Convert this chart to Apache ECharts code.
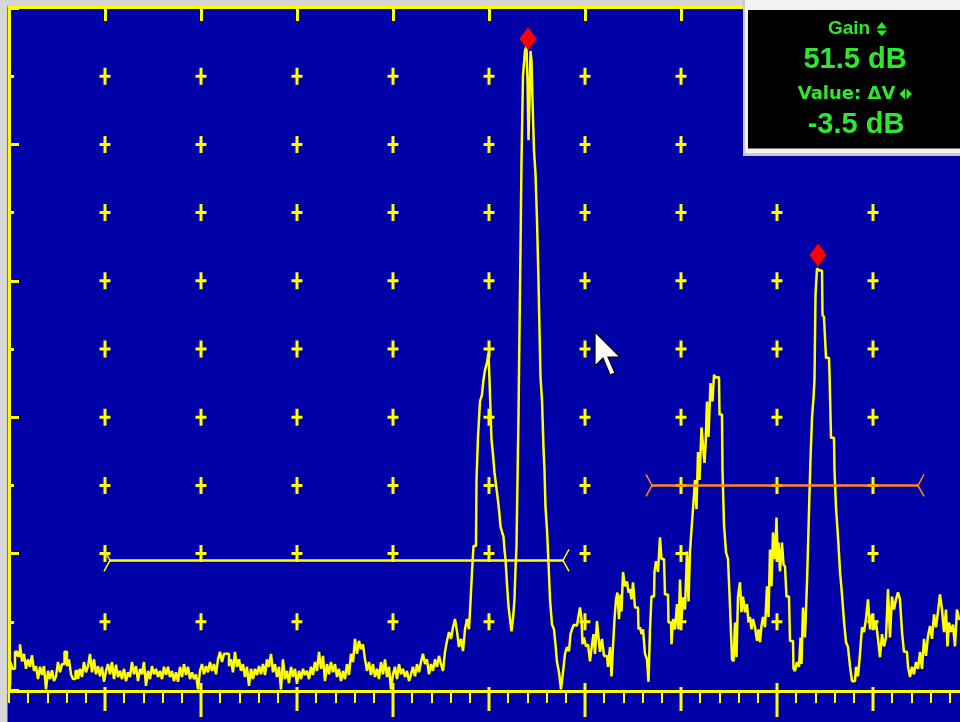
<!DOCTYPE html>
<html>
<head>
<meta charset="utf-8">
<title>A-Scan</title>
<script src="https://cdn.jsdelivr.net/npm/echarts@6.0.0/dist/echarts.min.js"></script>
<style>
  html, body { margin: 0; padding: 0; background: #d6d6d6; }
  #main { width: 960px; height: 722px; }
</style>
</head>
<body>
<div id="main"></div>
<script>
// echo trace: sample index along the time base, amplitude in % full screen height
const echoSample = [
  1, 2, 5, 7, 10, 12, 14, 16, 18, 20,
  22, 24, 26, 28, 30, 32, 34, 36, 38, 40,
  42, 44, 46, 48, 50, 52, 54, 57, 59, 61,
  63, 65, 68, 70, 72, 74, 76, 78, 80, 82,
  84, 86, 88, 90, 92, 94, 96, 98, 100, 102,
  104, 106, 108, 110, 112, 114, 116, 118, 120, 122,
  124, 126, 128, 130, 132, 134, 136, 138, 140, 142,
  144, 146, 148, 150, 152, 154, 156, 158, 160, 162,
  164, 166, 168, 170, 172, 174, 176, 178, 180, 182,
  184, 186, 188, 190, 192, 194, 196, 198, 200, 202,
  204, 206, 208, 210, 212, 214, 216, 219, 221, 223,
  225, 227, 229, 231, 233, 235, 237, 239, 241, 243,
  245, 247, 249, 251, 253, 255, 257, 259, 261, 263,
  265, 267, 269, 271, 273, 275, 277, 279, 281, 283,
  285, 287, 289, 291, 293, 295, 297, 299, 301, 303,
  305, 307, 309, 311, 313, 315, 317, 319, 321, 323,
  325, 327, 329, 331, 333, 335, 337, 339, 341, 343,
  345, 347, 349, 351, 353, 355, 357, 359, 361, 363,
  365, 367, 369, 371, 373, 375, 377, 379, 381, 383,
  385, 387, 389, 391, 393, 395, 397, 399, 401, 403,
  405, 407, 409, 411, 413, 415, 417, 419, 421, 423,
  425, 427, 429, 431, 433, 435, 437, 439, 441, 443,
  445, 447, 449, 451, 453, 455, 457, 459, 461, 462,
  464, 465, 467, 468, 470, 472, 474, 475, 477, 479,
  480, 481, 482, 483, 485, 486, 488, 489, 491, 492,
  494, 495, 496, 497, 499, 500, 502, 503, 505, 506,
  507, 508, 509, 510, 511, 512, 513, 515, 517, 518,
  519, 520, 521, 522, 523, 524, 526, 527, 529, 530,
  531, 532, 534, 535, 536, 537, 539, 540, 542, 544,
  546, 547, 549, 551, 553, 555, 557, 559, 561, 562,
  564, 566, 568, 570, 572, 573, 574, 576, 578, 580,
  582, 584, 585, 587, 589, 590, 592, 594, 596, 598,
  600, 602, 603, 605, 606, 608, 609, 611, 612, 613,
  615, 617, 619, 620, 622, 623, 625, 627, 629, 630,
  632, 633, 635, 637, 639, 640, 642, 643, 645, 646,
  648, 650, 652, 653, 655, 657, 659, 660, 662, 663,
  665, 667, 669, 670, 672, 673, 675, 677, 679, 680,
  682, 683, 685, 687, 688, 690, 691, 694, 695, 696,
  697, 699, 700, 703, 704, 706, 708, 710, 711, 713,
  714, 716, 718, 720, 722, 724, 725, 727, 728, 730,
  732, 733, 735, 737, 739, 740, 742, 743, 745, 747,
  749, 750, 752, 753, 755, 757, 759, 760, 762, 763,
  765, 767, 768, 769, 770, 772, 774, 775, 777, 778,
  780, 782, 784, 785, 787, 789, 791, 792, 793, 795,
  797, 799, 800, 801, 802, 804, 805, 806, 807, 809,
  810, 811, 813, 814, 816, 818, 820, 821, 823, 825,
  826, 828, 829, 830, 832, 834, 836, 838, 840, 842,
  844, 846, 848, 850, 852, 854, 856, 858, 860, 862,
  864, 866, 868, 870, 872, 874, 876, 878, 880, 882,
  884, 886, 888, 890, 892, 894, 896, 898, 900, 902,
  904, 906, 908, 910, 912, 914, 916, 918, 920, 922,
  924, 926, 928, 930, 932, 934, 936, 938, 939, 941,
  943, 945, 947, 949, 951
];
const echoAmp = [
  0.6, 4.1, 3.1, 5.6, 5.0, 6.7, 4.2, 5.3, 3.1, 4.5,
  3.4, 5.1, 2.8, 3.5, 1.6, 3.4, 2.2, 3.5, 0.1, 2.8,
  1.6, 2.9, 1.3, 2.0, 4.1, 2.6, 3.8, 5.6, 3.5, 4.5,
  2.3, 1.6, 2.8, 1.6, 3.1, 1.9, 4.1, 2.6, 3.5, 5.3,
  2.6, 4.5, 2.3, 3.5, 2.0, 3.4, 1.2, 2.8, 3.8, 2.3,
  4.1, 1.6, 3.7, 1.9, 2.8, 1.6, 3.1, 1.3, 2.6, 1.9,
  4.1, 2.3, 3.5, 1.3, 3.1, 2.3, 4.1, 0.6, 2.8, 1.6,
  3.5, 2.3, 3.1, 1.9, 2.8, 1.6, 3.4, 2.2, 3.4, 1.9,
  2.8, 1.3, 2.6, 1.2, 3.4, 1.9, 3.8, 2.2, 3.4, 1.6,
  2.6, 1.6, 2.3, 0.1, 2.8, 3.8, 2.3, 3.5, 2.6, 4.1,
  2.8, 3.8, 2.3, 4.5, 5.6, 4.1, 5.3, 5.3, 3.5, 4.5,
  2.6, 5.6, 3.4, 4.5, 2.8, 3.8, 1.9, 3.4, 0.6, 3.1,
  1.6, 3.1, 2.2, 3.5, 2.3, 3.8, 2.2, 4.5, 3.4, 5.3,
  2.6, 3.8, 1.9, 3.4, 0.1, 4.5, 1.6, 2.8, 1.0, 3.4,
  1.9, 3.1, 0.9, 2.8, 1.6, 3.1, 2.2, 2.8, 1.6, 3.4,
  2.2, 4.1, 2.8, 5.6, 3.1, 5.0, 1.3, 3.8, 2.3, 4.1,
  2.6, 3.8, 1.9, 3.1, 1.3, 2.8, 1.6, 3.8, 2.2, 5.3,
  4.1, 7.5, 5.3, 7.2, 6.0, 6.7, 4.5, 2.8, 4.1, 2.2,
  3.8, 1.9, 3.1, 1.6, 4.1, 2.3, 4.5, 1.9, 3.4, 0.1,
  2.3, 3.4, 1.6, 3.8, 2.3, 3.1, 1.9, 2.8, 1.3, 2.3,
  3.4, 2.0, 3.8, 2.6, 4.1, 5.3, 3.8, 4.5, 2.3, 3.8,
  2.8, 4.5, 3.4, 5.0, 3.8, 2.8, 5.6, 7.2, 8.5, 7.5,
  9.2, 10.4, 8.6, 6.3, 7.5, 5.7, 8.9, 10.4, 8.9, 12.9,
  17.3, 21.1, 21.1, 30.8, 37.1, 42.3, 43.3, 45.5, 46.9, 48.0,
  49.4, 45.5, 41.1, 36.7, 34.5, 31.9, 30.1, 28.4, 26.5, 24.0,
  23.2, 22.5, 20.6, 19.2, 15.5, 12.3, 10.4, 8.6, 10.4, 13.3,
  17.7, 21.1, 30.8, 40.1, 52.8, 64.5, 77.6, 90.1, 93.7, 94.4,
  89.3, 80.6, 86.4, 93.7, 92.3, 86.4, 79.1, 75.7, 68.9, 60.1,
  52.8, 45.9, 42.5, 35.5, 32.3, 26.8, 23.5, 18.7, 13.3, 9.6,
  8.9, 6.7, 4.1, 2.6, 0.1, 2.6, 5.3, 6.3, 5.7, 8.2,
  8.9, 9.6, 9.4, 10.4, 12.1, 10.4, 6.7, 7.7, 6.4, 6.7,
  4.2, 6.7, 8.2, 5.3, 10.1, 7.7, 5.6, 7.5, 5.0, 5.0,
  3.4, 6.3, 2.0, 6.3, 10.4, 13.3, 14.3, 10.4, 14.0, 11.5,
  17.3, 15.2, 15.9, 14.3, 14.8, 13.3, 15.8, 12.1, 12.1, 8.9,
  9.2, 8.2, 8.9, 5.3, 4.5, 1.2, 8.9, 13.7, 13.7, 17.3,
  18.9, 17.3, 22.4, 19.2, 19.2, 14.0, 14.0, 9.9, 9.9, 6.7,
  10.4, 8.9, 12.6, 8.9, 16.2, 10.4, 13.6, 11.8, 20.3, 13.0,
  20.3, 23.5, 26.5, 30.8, 26.5, 34.9, 30.8, 38.5, 34.9, 33.3,
  35.7, 42.3, 37.1, 45.0, 42.3, 46.2, 45.8, 45.9, 40.4, 40.4,
  32.3, 24.3, 20.2, 19.2, 12.3, 4.5, 4.2, 9.9, 4.8, 13.7,
  15.8, 11.4, 13.7, 11.4, 12.6, 9.9, 10.7, 8.9, 10.4, 9.2,
  7.2, 8.9, 7.0, 9.4, 10.7, 9.2, 15.2, 10.7, 20.6, 15.2,
  23.1, 19.2, 25.3, 19.9, 21.6, 17.4, 21.6, 18.4, 18.1, 13.7,
  13.7, 7.2, 7.2, 3.1, 2.8, 4.1, 3.4, 7.7, 3.8, 12.1,
  7.7, 15.8, 23.5, 28.9, 33.8, 39.9, 42.8, 45.5, 57.9, 61.8,
  61.8, 61.5, 61.5, 55.0, 54.7, 48.7, 48.7, 46.5, 37.0, 37.0,
  32.3, 26.8, 23.5, 21.3, 17.4, 14.0, 10.1, 7.0, 6.3, 3.5,
  1.3, 1.3, 3.4, 2.0, 5.3, 9.2, 8.5, 10.4, 13.3, 8.9,
  11.1, 8.9, 9.9, 7.5, 4.8, 8.2, 6.4, 7.7, 14.8, 7.7,
  13.7, 11.8, 13.3, 14.3, 13.3, 8.5, 5.6, 5.6, 3.4, 1.9,
  3.4, 2.3, 4.1, 3.1, 5.6, 3.1, 7.5, 5.0, 7.9, 9.4,
  7.5, 11.1, 9.2, 11.5, 14.0, 11.8, 8.5, 11.8, 6.4, 9.9,
  8.5, 9.6, 6.4, 11.8, 10.4
];

// screen divisions (10 x 10), 96 samples per horizontal division
const divCols = [96, 192, 288, 384, 480, 576, 672, 768, 864];
const divRows = [10, 20, 30, 40, 50, 60, 70, 80, 90];
const oddCols = [96, 288, 480, 672, 864];
const evenCols = [192, 384, 576, 768];

// gates: [start, end, threshold %]
const gateA = [101, 554, 19];
const gateB = [643, 909, 30];

// peak markers
const peakSample = [519, 809];
const peakAmp = [95.5, 63.8];

// readout box
const gainLabel = 'Gain';
const gainValue = '51.5 dB';
const deltaLabel = 'Value: \u0394V';
const deltaValue = '-3.5 dB';

const BLUE = '#0000a8';
const YEL = '#ffff00';
const ORANGE = '#ff8a1a';
const GREEN = '#2ee82e';
const GRAY = '#d6d6d6';

const chart = echarts.init(document.getElementById('main'));

const crosses = [];
divCols.forEach(c => divRows.forEach(r => crosses.push([c, r])));

// gate line with bracket ends
function gateRender(color) {
  return function (params, api) {
    const a = api.coord([api.value(0), api.value(2)]);
    const b = api.coord([api.value(1), api.value(2)]);
    const thin = { stroke: color, lineWidth: 1.5, fill: null };
    return {
      type: 'group',
      children: [
        { type: 'line', shape: { x1: a[0], y1: a[1], x2: b[0], y2: b[1] },
          style: { stroke: color, lineWidth: 2.5 } },
        { type: 'polyline', shape: { points: [[a[0] - 6, a[1] - 11], [a[0], a[1]], [a[0] - 6, a[1] + 11]] },
          style: thin },
        { type: 'polyline', shape: { points: [[b[0] + 6, b[1] - 11], [b[0], b[1]], [b[0] + 6, b[1] + 11]] },
          style: thin }
      ]
    };
  };
}

function txt(x, y, text, font) {
  return {
    type: 'text', x: x, y: y, z: 110,
    style: { text: text, fill: GREEN, font: font,
      textAlign: 'center', textVerticalAlign: 'middle', align: 'center', verticalAlign: 'middle' }
  };
}

const option = {
  animation: false,
  backgroundColor: BLUE,
  grid: { left: 9, top: 8, width: 960, height: 682, outerBoundsMode: 'none', containLabel: false },
  xAxis: [
    {
      type: 'value', position: 'bottom', min: 0, max: 960, interval: 19.2, offset: 1,
      axisLine: { onZero: false, lineStyle: { color: YEL, width: 3 } },
      axisTick: { show: true, inside: false, length: 12, lineStyle: { color: YEL, width: 2 } },
      axisLabel: { show: false }, splitLine: { show: false }
    },
    {
      type: 'value', position: 'top', min: 0, max: 960, interval: 96, offset: 1,
      axisLine: { show: true, onZero: false, lineStyle: { color: YEL, width: 3 } },
      axisTick: { show: true, inside: true, length: 14, lineStyle: { color: YEL, width: 3 } },
      axisLabel: { show: false }, splitLine: { show: false }
    }
  ],
  yAxis: [
    {
      type: 'value', position: 'left', min: 0, max: 100, interval: 10,
      axisLine: { show: true, onZero: false, lineStyle: { color: YEL, width: 3 } },
      axisTick: { show: true, inside: true, length: 5, lineStyle: { color: YEL, width: 3 } },
      axisLabel: { show: false }, splitLine: { show: false }
    },
    {
      type: 'value', position: 'left', offset: 0, min: 0, max: 100, interval: 20,
      axisLine: { show: false, onZero: false },
      axisTick: { show: true, inside: true, length: 10, lineStyle: { color: YEL, width: 3 } },
      axisLabel: { show: false }, splitLine: { show: false }
    }
  ],
  series: [
    {
      type: 'scatter', name: 'grid', z: 1, silent: true, clip: false,
      symbol: 'path://M4,0H7V7H11V10H7V17H4V10H0V7H4Z', symbolSize: [11, 17],
      itemStyle: { color: YEL, opacity: 1 },
      data: crosses
    },
    {
      type: 'scatter', name: 'div ticks', z: 1, silent: true, clip: false,
      symbol: 'rect', symbolSize: [3, 24], symbolOffset: [0, 9],
      itemStyle: { color: YEL, opacity: 1 },
      data: oddCols.map(c => [c, 0])
    },
    {
      type: 'scatter', name: 'major ticks', z: 1, silent: true, clip: false,
      symbol: 'rect', symbolSize: [3, 34], symbolOffset: [0, 10],
      itemStyle: { color: YEL, opacity: 1 },
      data: evenCols.map(c => [c, 0])
    },
    {
      type: 'line', name: 'A-scan', z: 3, step: 'middle', showSymbol: false, sampling: null,
      lineStyle: { color: YEL, width: 2.5 },
      data: echoSample.map((s, i) => [s, echoAmp[i]])
    },
    {
      type: 'custom', name: 'Gate A', z: 4, renderItem: gateRender(YEL), data: [gateA]
    },
    {
      type: 'custom', name: 'Gate B', z: 4, renderItem: gateRender(ORANGE), data: [gateB]
    },
    {
      type: 'scatter', name: 'peaks', z: 5, symbol: 'diamond', symbolSize: [17, 23],
      itemStyle: { color: '#ff0000', opacity: 1 },
      data: peakSample.map((s, i) => [s, peakAmp[i]])
    }
  ],
  graphic: [
    { type: 'rect', z: 0, shape: { x: 0, y: 0, width: 7.5, height: 722 }, style: { fill: GRAY } },
    { type: 'rect', z: 0, shape: { x: 0, y: 0, width: 960, height: 6 }, style: { fill: GRAY } },
    // readout box
    { type: 'rect', z: 100, shape: { x: 743, y: 0, width: 230, height: 156 }, style: { fill: '#c8c8c8' } },
    { type: 'rect', z: 101, shape: { x: 745, y: 0, width: 228, height: 153 }, style: { fill: '#f2f2f2' } },
    { type: 'rect', z: 102, shape: { x: 748, y: 10, width: 220, height: 138.5 }, style: { fill: '#000000' } },
    txt(849, 29, gainLabel, 'bold 19px "Liberation Sans", Arial, sans-serif'),
    { type: 'polygon', z: 110, shape: { points: [[876.5, 28.5], [887, 28.5], [881.7, 22]] }, style: { fill: GREEN } },
    { type: 'polygon', z: 110, shape: { points: [[876.5, 30.5], [887, 30.5], [881.7, 36]] }, style: { fill: GREEN } },
    txt(855, 59.5, gainValue, 'bold 29px "Liberation Sans", Arial, sans-serif'),
    txt(846.5, 94, deltaLabel, 'bold 18px "DejaVu Sans", sans-serif'),
    { type: 'polygon', z: 110, shape: { points: [[905, 88.5], [905, 99.5], [899.5, 94]] }, style: { fill: GREEN } },
    { type: 'polygon', z: 110, shape: { points: [[906.5, 88.5], [906.5, 99.5], [912, 94]] }, style: { fill: GREEN } },
    txt(856, 125, deltaValue, 'bold 29px "Liberation Sans", Arial, sans-serif'),
    // mouse pointer
    { type: 'polygon', z: 120,
      shape: { points: [[595, 332], [595, 366], [603, 358], [610, 375], [615, 373], [608, 357], [620, 357]] },
      style: { fill: '#ffffff', stroke: '#000000', lineWidth: 1.2 } }
  ]
};

chart.setOption(option);
</script>
</body>
</html>
